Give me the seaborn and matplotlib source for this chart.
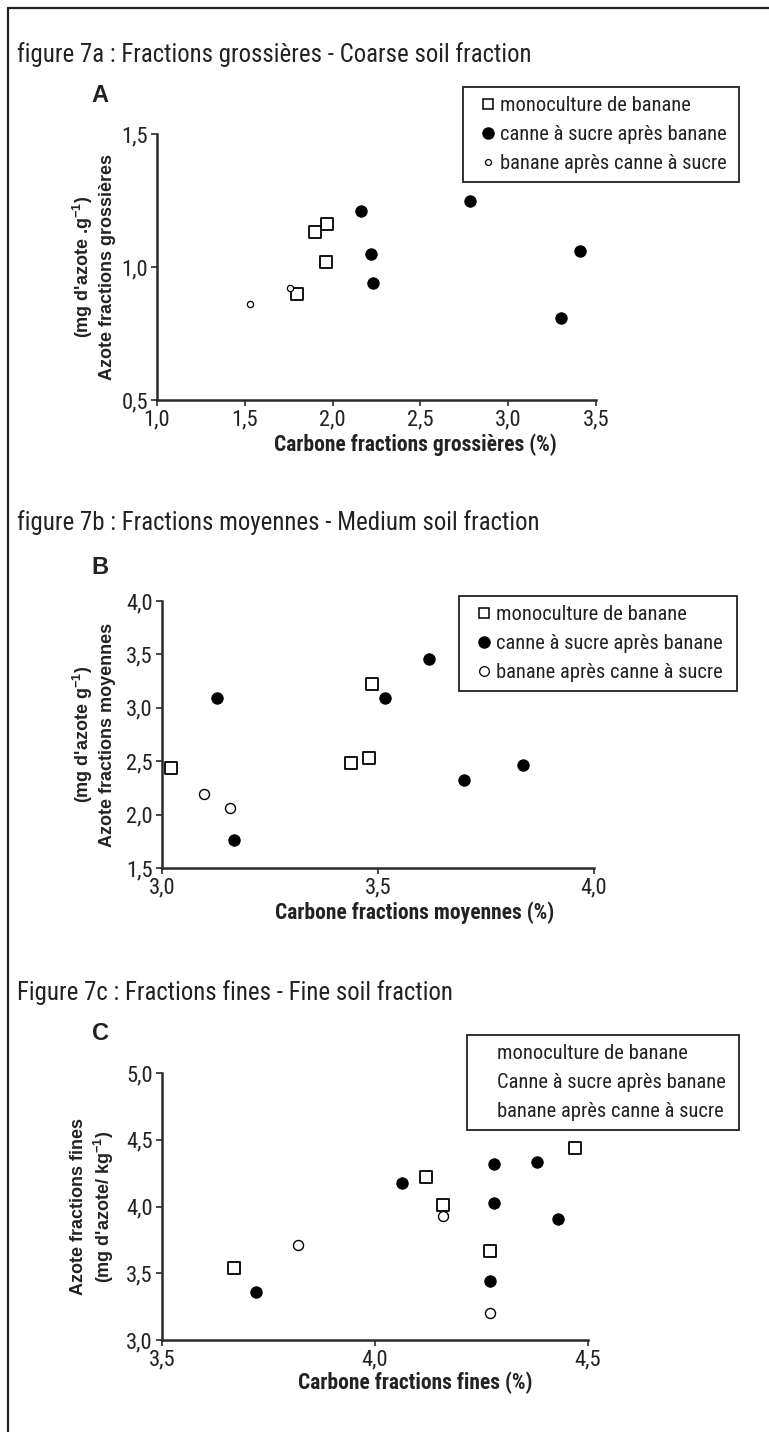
import numpy as np
import pandas as pd
import matplotlib
matplotlib.use("Agg")
import matplotlib.pyplot as plt
import seaborn as sns
from matplotlib import font_manager
from matplotlib.font_manager import FontProperties
from matplotlib.lines import Line2D
from matplotlib.ticker import FixedLocator, FuncFormatter

# ---------------- data ----------------
labels_ab = ["monoculture de banane", "canne à sucre après banane", "banane après canne à sucre"]
labels_c = ["monoculture de banane", "Canne à sucre après banane", "banane après canne à sucre"]

# Panel A : coarse fraction
a_mono_x = [1.97, 1.90, 1.96, 1.80]
a_mono_y = [1.16, 1.13, 1.02, 0.90]
a_canne_x = [2.16, 2.78, 2.22, 2.23, 3.41, 3.30]
a_canne_y = [1.21, 1.25, 1.05, 0.94, 1.06, 0.81]
a_ban_x = [1.53, 1.76]
a_ban_y = [0.86, 0.92]

# Panel B : medium fraction
b_mono_x = [3.02, 3.486, 3.438, 3.48]
b_mono_y = [2.44, 3.22, 2.48, 2.53]
b_canne_x = [3.127, 3.617, 3.516, 3.70, 3.836, 3.167]
b_canne_y = [3.09, 3.46, 3.09, 2.32, 2.46, 1.76]
b_ban_x = [3.097, 3.158]
b_ban_y = [2.19, 2.065]

# Panel C : fine fraction
c_mono_x = [3.67, 4.12, 4.16, 4.27, 4.47]
c_mono_y = [3.54, 4.22, 4.01, 3.666, 4.44]
c_canne_x = [4.064, 4.28, 4.38, 4.28, 4.43, 4.27, 3.72]
c_canne_y = [4.175, 4.32, 4.33, 4.025, 3.91, 3.44, 3.36]
c_ban_x = [3.82, 4.16, 4.27]
c_ban_y = [3.71, 3.93, 3.205]

a_xticks = [1.0, 1.5, 2.0, 2.5, 3.0, 3.5]
a_yticks = [0.5, 1.0, 1.5]
b_xticks = [3.0, 3.5, 4.0]
b_yticks = [1.5, 2.0, 2.5, 3.0, 3.5, 4.0]
c_xticks = [3.5, 4.0, 4.5]
c_yticks = [3.0, 3.5, 4.0, 4.5, 5.0]

titles = ["figure 7a : Fractions grossières - Coarse soil fraction",
          "figure 7b : Fractions moyennes - Medium soil fraction",
          "Figure 7c : Fractions fines - Fine soil fraction"]
letters = ["A", "B", "C"]
xlabels = ["Carbone fractions grossières (%)",
           "Carbone fractions moyennes (%)",
           "Carbone fractions fines (%)"]
ylabels = ["(mg d'azote .g$^{\\mathbf{-1}}$)\nAzote fractions grossières",
           "(mg d'azote g$^{\\mathbf{-1}}$)\nAzote fractions moyennes",
           "Azote fractions fines\n(mg d'azote/ kg$^{\\mathbf{-1}}$)"]

# ---------------- fonts ----------------
sns.set_theme(style="white")
ttf = font_manager.fontManager.ttflist
names = {f.name for f in ttf}
ARIAL = "Liberation Sans" if "Liberation Sans" in names else "DejaVu Sans"


def _is_narrow(f):
    s = (f.name + " " + f.fname).lower()
    return ("narrow" in s or "condensed" in s or str(f.stretch) in
            ("condensed", "semi-condensed", "extra-condensed", "ultra-condensed"))


def _wt(f):
    w = f.weight
    if isinstance(w, str):
        return 700 if "bold" in w else 400
    return int(w)


def _pick(bold):
    cands = [f for f in ttf if _is_narrow(f) and f.style == "normal"]
    if not cands:
        return None
    pref = ["liberation sans narrow", "roboto condensed", "open sans condensed",
            "noto sans", "dejavu sans"]

    def score(f):
        nm = f.name.lower()
        p = next((i for i, q in enumerate(pref) if q in nm), len(pref))
        return (p, abs(_wt(f) - (700 if bold else 400)))
    return sorted(cands, key=score)[0].fname


NARROW_R = _pick(False)
NARROW_B = _pick(True)


def nfont(size, bold=False):
    path = NARROW_B if bold else NARROW_R
    if path is not None:
        return FontProperties(fname=path, size=size)
    return FontProperties(family=[ARIAL, "DejaVu Sans"], size=size * 0.86,
                          weight="bold" if bold else "normal")


def afont(size, bold=True):
    return FontProperties(family=[ARIAL, "DejaVu Sans"], size=size,
                          weight="bold" if bold else "normal")


plt.rcParams["font.family"] = [ARIAL, "DejaVu Sans"]
plt.rcParams["mathtext.fontset"] = "custom"
plt.rcParams["mathtext.bf"] = ARIAL + ":bold"
plt.rcParams["mathtext.rm"] = ARIAL
plt.rcParams["mathtext.default"] = "bf"

W, H = 769, 1432
fig = plt.figure(figsize=(W / 100, H / 100), dpi=100)
fig.patch.set_facecolor("white")


def fx(px):
    return px / W


def fy(py):
    return 1 - py / H


# outer frame: top and left lines
fig.add_artist(Line2D([fx(8), 1.0], [fy(7.5), fy(7.5)], color="#222222", lw=1.6))
fig.add_artist(Line2D([fx(7.5), fx(7.5)], [fy(7.5), 0.0], color="#222222", lw=1.6))

AX_COLOR = "#2a2a2a"
TXT = "#222222"
LEG_FS = 14.8

panels = [
    dict(mono=(a_mono_x, a_mono_y), canne=(a_canne_x, a_canne_y), ban=(a_ban_x, a_ban_y),
         xt=a_xticks, yt=a_yticks, top=134, bottom=400, left=157, right=596,
         ban_size=20, leg=(463, 87, 739, 188), leg_markers=True, labels=labels_ab, ban_leg_ms=4.3),
    dict(mono=(b_mono_x, b_mono_y), canne=(b_canne_x, b_canne_y), ban=(b_ban_x, b_ban_y),
         xt=b_xticks, yt=b_yticks, top=601, bottom=868, left=162, right=594,
         ban_size=52, leg=(459, 596, 737, 693), leg_markers=True, labels=labels_ab, ban_leg_ms=7.0),
    dict(mono=(c_mono_x, c_mono_y), canne=(c_canne_x, c_canne_y), ban=(c_ban_x, c_ban_y),
         xt=c_xticks, yt=c_yticks, top=1073, bottom=1340, left=162, right=588,
         ban_size=52, leg=(467, 1035, 739, 1132), leg_markers=False, labels=labels_c, ban_leg_ms=7.0),
]
offsets = [0, 468, 938]

fmt = FuncFormatter(lambda v, p: f"{v:.1f}".replace(".", ","))

for i, P in enumerate(panels):
    ax = fig.add_axes([fx(P["left"]), fy(P["bottom"]),
                       fx(P["right"] - P["left"]), (P["bottom"] - P["top"]) / H])
    ax.set_facecolor("none")
    groups = [
        (P["mono"], "s", "white", 70, 1.3),
        (P["canne"], "o", "black", 66, 0.8),
        (P["ban"], "o", "white", P["ban_size"], 1.0 if i else 0.9),
    ]
    for (xs, ys), mk, fc, sz, lw in groups:
        df = pd.DataFrame({"x": xs, "y": ys})
        sns.scatterplot(data=df, x="x", y="y", ax=ax, marker=mk, s=sz,
                        facecolor=fc, edgecolor="black", linewidth=lw,
                        clip_on=False, zorder=3)
    ax.set_xlim(P["xt"][0], P["xt"][-1])
    ax.set_ylim(P["yt"][0], P["yt"][-1])
    ax.xaxis.set_major_locator(FixedLocator(P["xt"]))
    ax.yaxis.set_major_locator(FixedLocator(P["yt"]))
    ax.xaxis.set_major_formatter(fmt)
    ax.yaxis.set_major_formatter(fmt)
    for s in ["top", "right"]:
        ax.spines[s].set_visible(False)
    for s in ["left", "bottom"]:
        ax.spines[s].set_color(AX_COLOR)
        ax.spines[s].set_linewidth(1.8)
    ax.tick_params(axis="both", which="major", direction="out", length=4, width=1.2,
                   color=AX_COLOR, labelcolor=TXT, pad=2.5, bottom=True, left=True)
    ax.set_xlabel("")
    ax.set_ylabel("")
    tf = nfont(16.2)
    for lab in ax.get_xticklabels() + ax.get_yticklabels():
        lab.set_fontproperties(tf)

    off = offsets[i]
    # figure title
    fig.text(fx(17), fy(55 + off), titles[i], fontproperties=nfont(17.9), color=TXT,
             ha="left", va="center")
    # panel letter
    fig.text(fx(100), fy(95 + off + (i == 1) * 5), letters[i], fontproperties=afont(17),
             color=TXT, ha="center", va="center")
    # x label
    fig.text(fx(415), fy(445 + off), xlabels[i], fontproperties=nfont(15.5, bold=True),
             color=TXT, ha="center", va="center")
    # y label
    yc = (P["top"] + P["bottom"]) / 2
    fig.text(fx(93), fy(yc), ylabels[i], fontproperties=afont(13), color=TXT, rotation=90,
             ha="center", va="center", multialignment="center", linespacing=1.3)

    # legend
    x0, y0, x1, y1 = P["leg"]
    if P["leg_markers"]:
        handles = [
            Line2D([], [], ls="none", marker="s", ms=6.6, mfc="white", mec="black", mew=1.1),
            Line2D([], [], ls="none", marker="o", ms=8.0, mfc="black", mec="black"),
            Line2D([], [], ls="none", marker="o", ms=P["ban_leg_ms"], mfc="white", mec="black", mew=0.9),
        ]
        hl, htp = 1.55, -0.22
    else:
        handles = [Line2D([], [], ls="none", marker="none") for _ in range(3)]
        hl, htp = 0.6, 0.4
    leg = ax.legend(handles, P["labels"], loc="upper left",
                    bbox_to_anchor=(fx(x0), fy(y1), fx(x1 - x0), (y1 - y0) / H),
                    bbox_transform=fig.transFigure, mode="expand",
                    frameon=True, fancybox=False, framealpha=1, edgecolor=TXT,
                    prop=nfont(LEG_FS), handlelength=hl, handletextpad=htp,
                    labelspacing=0.48, borderpad=0.45, borderaxespad=0)
    leg.get_frame().set_linewidth(1.3)
    for t in leg.get_texts():
        t.set_color(TXT)

fig.savefig("out.png", dpi=100, facecolor="white")
